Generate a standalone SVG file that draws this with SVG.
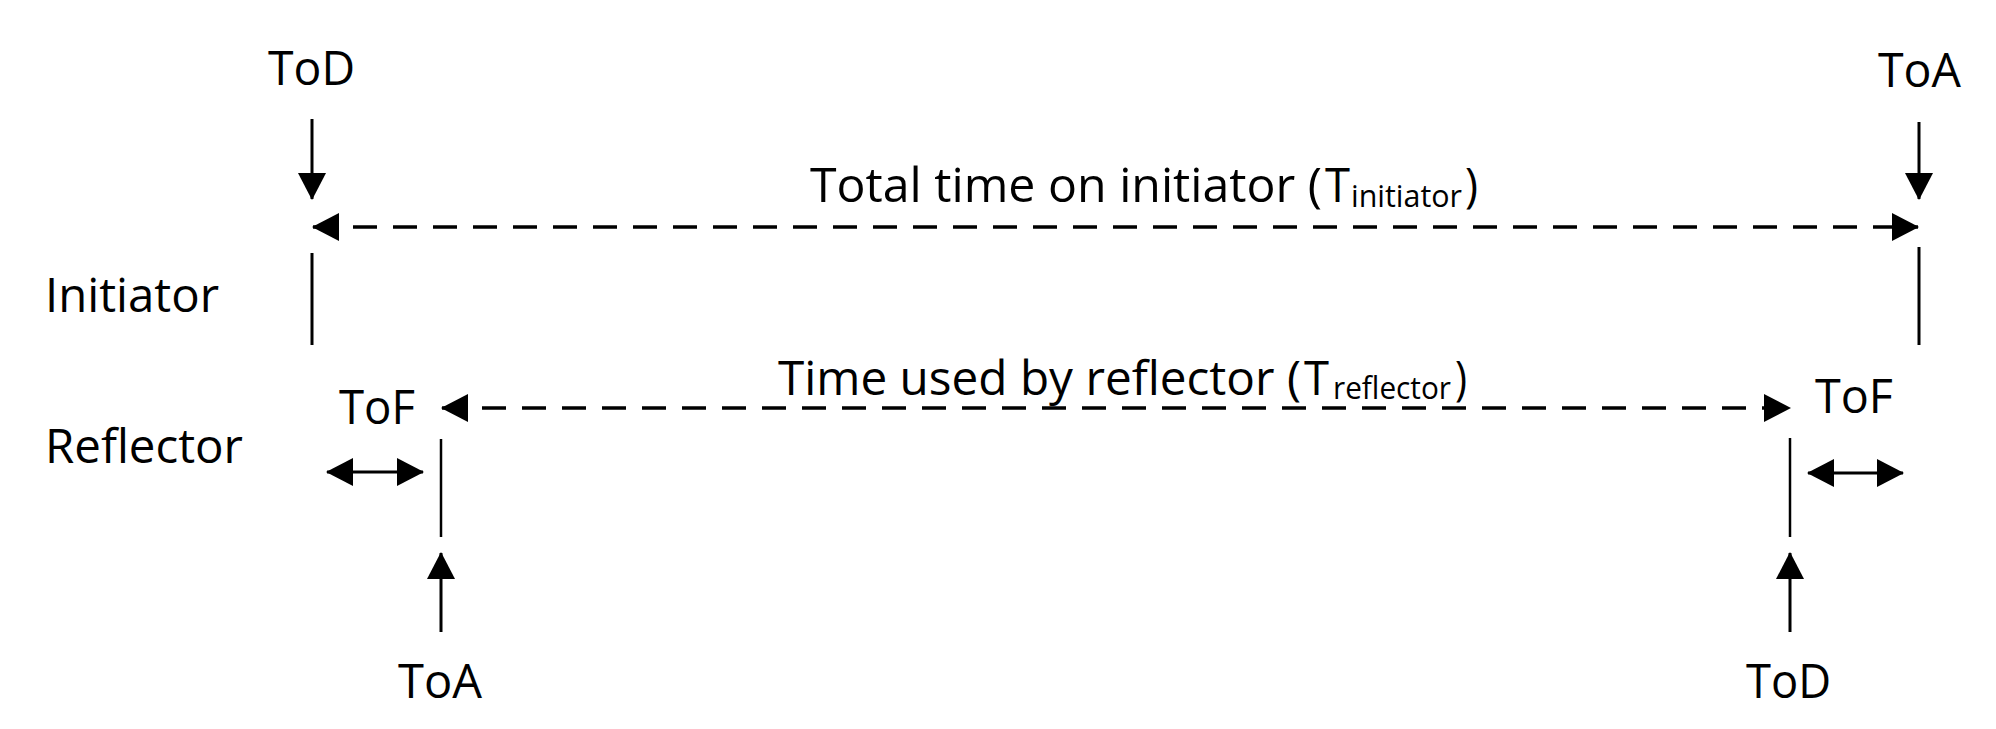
<svg xmlns="http://www.w3.org/2000/svg" width="1996" height="729" viewBox="0 0 1996 729">
  <style>
    text { font-family: "Open Sans", "Noto Sans", "Liberation Sans", sans-serif; font-size: 48px; fill: #000; }
    text.sub { font-size: 31px; }
    .solid { stroke: #000; stroke-width: 3; fill: none; }
    .thin { stroke: #000; stroke-width: 2.5; fill: none; }
    .dash { stroke: #000; stroke-width: 3.5; fill: none; stroke-dasharray: 24 16; }
  </style>
  <defs>
    <marker id="ah" viewBox="0 0 27 28" refX="26" refY="14" markerWidth="27" markerHeight="28" markerUnits="userSpaceOnUse" orient="auto-start-reverse">
      <path d="M0,0 L27,14 L0,28 Z" fill="#000"/>
    </marker>
  </defs>
  <rect width="1996" height="729" fill="#fff"/>

  <g id="label-initiator">
    <text x="45" y="312" textLength="174" lengthAdjust="spacingAndGlyphs">Initiator</text>
  </g>
  <g id="label-reflector">
    <text x="45" y="463" textLength="198" lengthAdjust="spacingAndGlyphs">Reflector</text>
  </g>
  <g id="tod-initiator">
    <text x="268" y="85" textLength="87" lengthAdjust="spacingAndGlyphs">ToD</text>
  </g>
  <g id="toa-initiator">
    <text x="1878" y="87" textLength="83" lengthAdjust="spacingAndGlyphs">ToA</text>
  </g>
  <g id="tof-left">
    <text x="339" y="424" textLength="76" lengthAdjust="spacingAndGlyphs">ToF</text>
  </g>
  <g id="tof-right">
    <text x="1815" y="413" textLength="78" lengthAdjust="spacingAndGlyphs">ToF</text>
  </g>
  <g id="toa-reflector">
    <text x="398" y="698" textLength="84" lengthAdjust="spacingAndGlyphs">ToA</text>
  </g>
  <g id="tod-reflector">
    <text x="1746" y="698" textLength="85" lengthAdjust="spacingAndGlyphs">ToD</text>
  </g>
  <g id="label-total-time">
    <text x="810" y="202" textLength="512" lengthAdjust="spacingAndGlyphs">Total time on initiator (</text>
    <text x="1325" y="202" textLength="25" lengthAdjust="spacingAndGlyphs">T</text>
    <text class="sub" x="1351" y="207" textLength="111" lengthAdjust="spacingAndGlyphs">initiator</text>
    <text x="1465" y="202" textLength="13" lengthAdjust="spacingAndGlyphs">)</text>
  </g>
  <g id="label-reflector-time">
    <text x="778" y="395" textLength="523" lengthAdjust="spacingAndGlyphs">Time used by reflector (</text>
    <text x="1304" y="395" textLength="25" lengthAdjust="spacingAndGlyphs">T</text>
    <text class="sub" x="1333" y="399" textLength="118" lengthAdjust="spacingAndGlyphs">reflector</text>
    <text x="1455" y="395" textLength="12" lengthAdjust="spacingAndGlyphs">)</text>
  </g>

  <g id="connectors">
    <!-- timelines -->
    <line class="solid" x1="312" y1="253" x2="312" y2="345"/>
    <line class="solid" x1="1919" y1="247" x2="1919" y2="345"/>
    <line class="thin" x1="441" y1="439" x2="441" y2="537"/>
    <line class="thin" x1="1790" y1="438" x2="1790" y2="537"/>
    <!-- event arrows -->
    <line class="solid" x1="312" y1="119" x2="312" y2="199" marker-end="url(#ah)"/>
    <line class="solid" x1="1919" y1="122" x2="1919" y2="199" marker-end="url(#ah)"/>
    <line class="solid" x1="441" y1="632" x2="441" y2="553" marker-end="url(#ah)"/>
    <line class="solid" x1="1790" y1="632" x2="1790" y2="553" marker-end="url(#ah)"/>
    <!-- dashed intervals -->
    <line class="dash" x1="313" y1="227" x2="1918" y2="227" marker-start="url(#ah)" marker-end="url(#ah)"/>
    <line class="dash" x1="442" y1="408" x2="1790" y2="408" marker-start="url(#ah)" marker-end="url(#ah)"/>
    <!-- ToF double arrows -->
    <line class="solid" x1="327" y1="472" x2="423" y2="472" marker-start="url(#ah)" marker-end="url(#ah)"/>
    <line class="solid" x1="1808" y1="473" x2="1903" y2="473" marker-start="url(#ah)" marker-end="url(#ah)"/>
  </g>
</svg>
